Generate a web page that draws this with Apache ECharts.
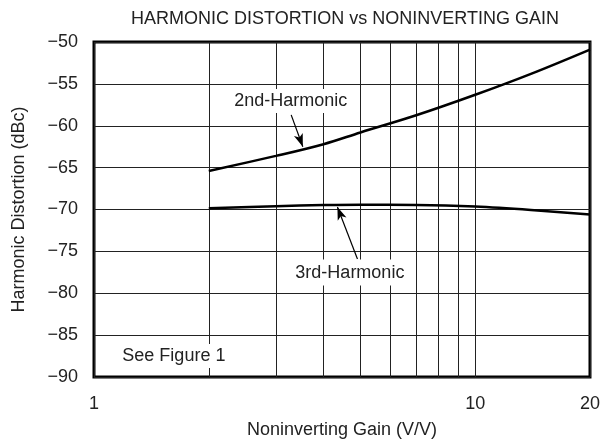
<!DOCTYPE html>
<html>
<head>
<meta charset="utf-8">
<script src="https://cdn.jsdelivr.net/npm/echarts@6/dist/echarts.min.js"></script>
<style>
  html, body { margin: 0; padding: 0; background: #fff; }
  #chart { width: 603px; height: 445px; }
</style>
</head>
<body>
<div id="chart"></div>
<script>
// gain points (V/V)
var gains = [2, 3, 4, 5, 7, 10, 14, 20]
var harm2 = [-65.4, -63.6, -62.2, -60.8, -58.75, -56.3, -53.8, -50.9]
var harm3 = [-69.85, -69.6, -69.47, -69.42, -69.45, -69.65, -70.05, -70.6]
// minor vertical grid lines of the log axis
var minorGains = [2, 3, 4, 5, 6, 7, 8, 9]
var yTicks = { min: -90, max: -50, step: 5 }

var FONT = 'Liberation Sans, Arial, Helvetica, sans-serif'
var TXT = '#222'

function pairs(xs, ys) {
  return xs.map(function (x, i) { return [x, ys[i]] })
}

function note(name, coord) {
  return { name: name, coord: coord }
}

var chart = echarts.init(document.getElementById('chart'))

var option = {
  backgroundColor: '#fff',
  animation: false,
  title: {
    text: 'HARMONIC DISTORTION vs NONINVERTING GAIN',
    left: 126,
    top: 5,
    textStyle: { fontFamily: FONT, fontSize: 18, fontWeight: 'normal', color: TXT }
  },
  grid: {
    left: 94,
    right: 12,
    top: 42,
    bottom: 68,
    show: true,
    borderColor: '#000',
    borderWidth: 3
  },
  xAxis: {
    type: 'log',
    logBase: 10,
    min: 1,
    max: 20,
    name: 'Noninverting Gain (V/V)',
    nameLocation: 'middle',
    nameGap: 44,
    nameTextStyle: { fontFamily: FONT, fontSize: 18, color: TXT },
    axisLine: { show: false },
    axisTick: { show: false },
    axisLabel: { fontFamily: FONT, fontSize: 18, color: TXT, margin: 18 },
    splitLine: { show: true, lineStyle: { color: '#222', width: 1 } }
  },
  yAxis: {
    type: 'value',
    min: yTicks.min,
    max: yTicks.max,
    interval: yTicks.step,
    name: 'Harmonic Distortion (dBc)',
    nameLocation: 'middle',
    nameGap: 66,
    nameTextStyle: { fontFamily: FONT, fontSize: 18, color: TXT },
    axisLine: { show: false },
    axisTick: { show: false },
    axisLabel: {
      fontFamily: FONT, fontSize: 18, color: TXT, margin: 16,
      formatter: function (v) { return String(v).replace('-', '\u2212') }
    },
    splitLine: { show: true, lineStyle: { color: '#222', width: 1 } }
  },
  series: [
    {
      // helper series: minor grid lines of the log axis
      name: 'grid',
      type: 'line',
      data: [],
      silent: true,
      z: 1,
      markLine: {
        silent: true,
        symbol: ['none', 'none'],
        z: 1,
        label: { show: false },
        lineStyle: { color: '#222', width: 1, type: 'solid' },
        emphasis: { disabled: true },
        data: minorGains.map(function (g) { return { xAxis: g } })
      }
    },
    {
      name: '2nd-Harmonic',
      type: 'line',
      smooth: 0.35,
      symbol: 'none',
      z: 3,
      lineStyle: { color: '#000', width: 2.5 },
      data: pairs(gains, harm2),
      markLine: {
        silent: true,
        symbol: ['none', 'arrow'],
        symbolSize: [7, 13],
        z: 6,
        label: { show: false },
        lineStyle: { color: '#000', width: 1.2, type: 'solid' },
        data: [[{ coord: [3.29, -58.7] }, { coord: [3.53, -62.5] }]]
      },
      markPoint: {
        silent: true,
        symbol: 'rect',
        symbolSize: 0,
        z: 8,
        label: {
          show: true, position: 'inside', formatter: '{b}',
          fontFamily: FONT, fontSize: 18, color: TXT,
          backgroundColor: '#fff', padding: [3, 6]
        },
        data: [note('2nd-Harmonic', [3.28, -57.04]), note('See Figure 1', [1.62, -87.5])]
      }
    },
    {
      name: '3rd-Harmonic',
      type: 'line',
      smooth: 0.35,
      symbol: 'none',
      z: 3,
      lineStyle: { color: '#000', width: 2.5 },
      data: pairs(gains, harm3),
      markLine: {
        silent: true,
        symbol: ['none', 'arrow'],
        symbolSize: [7, 13],
        z: 6,
        label: { show: false },
        lineStyle: { color: '#000', width: 1.2, type: 'solid' },
        data: [[{ coord: [4.91, -75.9] }, { coord: [4.35, -69.7] }]]
      },
      markPoint: {
        silent: true,
        symbol: 'rect',
        symbolSize: 0,
        z: 8,
        label: {
          show: true, position: 'inside', formatter: '{b}',
          fontFamily: FONT, fontSize: 18, color: TXT,
          backgroundColor: '#fff', padding: [4, 6]
        },
        data: [note('3rd-Harmonic', [4.69, -77.53])]
      }
    }
  ]
}

chart.setOption(option)
</script>
</body>
</html>
